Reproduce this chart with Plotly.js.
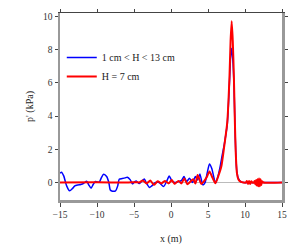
<!DOCTYPE html>
<html><head><meta charset="utf-8">
<script src="https://cdn.plot.ly/plotly-3.0.1.min.js"></script>
<style>html,body{margin:0;padding:0;background:#fff}#chart{width:300px;height:250px}</style>
</head><body><div id="chart"></div>
<script>
// Blue series: 1 cm < H < 13 cm
const blueX = [-15,-14.8,-14.5,-14.1,-13.7,-13.3,-13.0,-12.6,-12.2,-11.8,-11.4,-11.1,-10.8,-10.5,-10.2,-9.7,-9.4,-9.1,-8.7,-8.4,-8.2,-7.9,-7.5,-7.2,-7.0,-6.6,-6.2,-5.9,-5.5,-5.2,-4.9,-4.7,-4.3,-4.0,-3.6,-3.3,-2.9,-2.6,-2.1,-1.6,-1.0,-0.6,-0.24,0.1,0.5,0.9,1.4,1.76,2.1,2.5,2.9,3.3,3.6,3.9,4.3,4.6,4.9,5.2,5.5,5.8,6.0,6.3,6.6,6.9,7.2,7.6,7.9,8.05,8.2,8.35,8.5,8.64,8.75,8.9,9.1,9.4,9.8,12,15];
const blueY = [0.56,0.62,0.4,-0.2,-0.5,-0.35,-0.2,-0.15,-0.12,-0.05,0.08,-0.15,-0.34,-0.1,0.06,0.02,0.3,0.5,0.36,0.0,-0.45,-0.52,-0.5,-0.2,0.2,0.24,0.28,0.32,0.16,-0.08,0.05,0.1,-0.06,0.06,0.22,-0.05,-0.3,-0.2,0.0,0.0,-0.24,0.05,0.4,0.12,0.0,0.05,0.12,0.36,0.05,0.26,0.0,0.36,0.15,0.52,-0.14,0.0,0.6,1.12,0.86,0.3,-0.04,0.3,0.86,1.6,2.3,3.5,6.0,7.5,8.08,7.4,6.0,3.45,1.8,0.66,0.25,0.06,0.0,0.0,0.0];
// Red series: H = 7 cm
const redX = [-15,-10,-6,-4.5,-4.3,-3.8,-3.3,-2.8,-2.3,-1.8,-1.3,-0.8,-0.3,0.1,0.5,1.0,1.4,1.8,2.2,2.6,3.0,3.3,3.6,4.1,4.5,4.8,5.2,5.6,6.0,6.4,6.8,7.2,7.6,7.9,8.05,8.2,8.35,8.5,8.64,8.75,8.9,9.1,9.4,9.8,10.1,10.25,10.4,10.55,10.7,10.85,11.0,11.2,11.3,11.4,11.5,11.6,11.7,11.8,11.9,12.0,12.1,12.2,12.3,12.5,15];
const redY = [0.0,0.02,0.0,0.02,0.0,0.12,-0.05,0.12,-0.14,0.08,-0.05,0.1,-0.05,0.15,-0.08,0.1,-0.05,0.25,-0.1,0.05,0.2,-0.06,0.46,-0.08,0.1,0.3,0.66,0.3,-0.04,0.4,0.96,2.2,3.6,6.3,8.5,9.7,8.5,6.3,3.5,1.8,0.6,0.2,0.05,0.0,0.0,0.09,-0.08,0.1,-0.09,0.08,0.0,0.0,0.1,-0.12,0.16,-0.18,0.2,-0.22,0.24,-0.22,0.2,-0.15,0.08,0.0,0.0];
const xTicks = [-15,-10,-5,0,5,10,15];
const yTicks = [0,2,4,6,8,10];
const seriesNames = ['1 cm < H < 13 cm','H = 7 cm'];

const data = [
  {x: blueX, y: blueY, type: 'scatter', mode: 'lines', name: seriesNames[0], line: {color: '#0000ff', width: 1.5, shape: 'spline', smoothing: 0.6}},
  {x: redX, y: redY, type: 'scatter', mode: 'lines', name: seriesNames[1], line: {color: '#ff0000', width: 2, shape: 'spline', smoothing: 0.6}},
  {x: xTicks, y: xTicks.map(() => null), xaxis: 'x2', yaxis: 'y', showlegend: false, hoverinfo: 'skip', type: 'scatter', mode: 'lines'}
];
const fontFam = 'Liberation Serif, Times New Roman, serif';
const layout = {
  width: 300, height: 250,
  margin: {l: 60, r: 15, t: 12, b: 50},
  paper_bgcolor: '#fff', plot_bgcolor: '#fff',
  font: {family: fontFam, size: 10, color: '#222'},
  showlegend: true,
  legend: {x: 0.008, y: 0.84, xanchor: 'left', yanchor: 'top', bgcolor: 'rgba(0,0,0,0)', font: {family: fontFam, size: 10, color: '#222'}, tracegroupgap: 0},
  xaxis: {range: [-15, 15], tickvals: xTicks, ticks: 'outside', ticklen: 4, tickcolor: '#444', tickwidth: 1,
    tickfont: {family: fontFam, size: 9.5, color: '#333'}, automargin: false,
    showline: true, linecolor: '#999', linewidth: 2.5, showgrid: false, zeroline: false,
    title: {text: 'x (m)', font: {family: fontFam, size: 10, color: '#222'}}},
  xaxis2: {range: [-15, 15], overlaying: 'x', side: 'top', tickvals: xTicks, ticks: 'outside', ticklen: 3, tickcolor: '#444',
    showticklabels: false, showline: true, linecolor: '#444', linewidth: 1.2, showgrid: false, zeroline: false, automargin: false},
  yaxis: {range: [-1.05, 10.2], tickvals: yTicks, ticks: 'outside', ticklen: 3, tickcolor: '#444', tickwidth: 1,
    tickfont: {family: fontFam, size: 9.5, color: '#333'}, automargin: true,
    showline: true, linecolor: '#999', linewidth: 2.5, mirror: 'ticks', showgrid: false,
    zeroline: true, zerolinecolor: '#bbbbbb', zerolinewidth: 1.5,
    title: {text: "p' (kPa)", font: {family: fontFam, size: 10, color: '#222'}, standoff: 8}}
};
Plotly.newPlot('chart', data, layout, {displayModeBar: false, staticPlot: true});
</script></body></html>
